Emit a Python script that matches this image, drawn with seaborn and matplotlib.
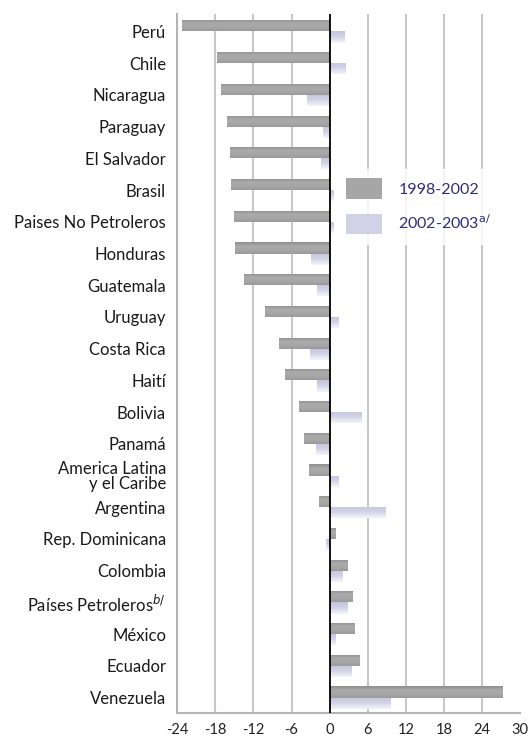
import matplotlib
matplotlib.use("Agg")
import matplotlib.pyplot as plt
from matplotlib.colors import LinearSegmentedColormap
import seaborn as sns
import pandas as pd
import numpy as np

countries = ["Perú", "Chile", "Nicaragua", "Paraguay", "El Salvador", "Brasil",
             "Paises No Petroleros", "Honduras", "Guatemala", "Uruguay", "Costa Rica",
             "Haití", "Bolivia", "Panamá", "America Latina\ny el Caribe", "Argentina",
             "Rep. Dominicana", "Colombia", "Países Petroleros$^{b/}$", "México",
             "Ecuador", "Venezuela"]
v_1998_2002 = [-23.2, -17.7, -17.1, -16.2, -15.7, -15.5, -15.0, -14.9, -13.5, -10.2,
               -7.9, -7.1, -4.9, -4.1, -3.3, -1.7, 0.9, 2.8, 3.6, 3.9, 4.7, 27.1]
v_2002_2003 = [2.3, 2.5, -3.6, -1.1, -1.4, 0.6, 0.6, -3.0, -2.0, 1.3,
               -3.1, -2.0, 5.0, -2.2, 1.3, 8.8, -0.5, 2.0, 2.8, 0.9, 3.4, 9.5]
series = ["1998-2002", "2002-2003$^{\\mathrm{a/}}$"]
xticks = [-24, -18, -12, -6, 0, 6, 12, 18, 24, 30]

df = pd.DataFrame({
    "pais": countries * 2,
    "valor": v_1998_2002 + v_2002_2003,
    "periodo": [series[0]] * len(countries) + [series[1]] * len(countries),
})

sns.set_style("white")
plt.rcParams["font.family"] = ["Lato", "DejaVu Sans"]

fig = plt.figure(figsize=(5.32, 7.39), dpi=100)
ax = fig.add_axes([0.333, 0.035, 0.645, 0.946])

sns.barplot(data=df, y="pais", x="valor", hue="periodo", orient="h",
            palette=["#a6a6a6", "#d2d2e6"], width=0.7, saturation=1,
            linewidth=0, ax=ax)

# soft vertical gradient on each bar, like the original
grey_cmap = LinearSegmentedColormap.from_list("g", ["#8e8e8e", "#aaaaaa", "#a8a8a8", "#9a9a9a"])
lav_cmap = LinearSegmentedColormap.from_list("l", ["#c4c4dc", "#d4d4e8", "#f4f4fa"])
grad = np.linspace(0, 1, 32).reshape(-1, 1)
n = len(countries)
for i, patch in enumerate(list(ax.patches)):
    w = patch.get_width()
    if w == 0 or np.isnan(w):
        continue
    x0, y0 = patch.get_x(), patch.get_y()
    h = patch.get_height()
    cmap = grey_cmap if i < n else lav_cmap
    im = ax.imshow(grad, cmap=cmap, aspect="auto",
                   extent=[min(x0, x0 + w), max(x0, x0 + w), y0 + h, y0],
                   zorder=2, interpolation="bicubic")
    im.set_clip_path(patch)

ax.set_xlim(-24, 30)
ax.set_ylim(n - 0.51, -0.55)
ax.set_xticks(xticks)
ax.set_xticklabels([str(t) for t in xticks], fontsize=10.5, color="#222222")
ax.tick_params(axis="x", length=0, pad=7)
ax.tick_params(axis="y", length=0, pad=8, labelsize=12, labelcolor="#1a1a1a")
for lbl in ax.get_yticklabels():
    lbl.set_linespacing(0.95)
ax.set_xlabel("")
ax.set_ylabel("")

for t in xticks[1:-1]:
    if t != 0:
        ax.axvline(t, color="#c8c8cc", lw=1.5, zorder=0)
ax.axvline(0, color="black", lw=1.3, zorder=3)

for side in ["top", "right"]:
    ax.spines[side].set_visible(False)
for side in ["left", "bottom"]:
    ax.spines[side].set_color("#b4b4b8")
    ax.spines[side].set_linewidth(1.5)

leg = ax.legend(loc="center left", bbox_to_anchor=(0.44, 0.725), frameon=True,
                fontsize=11.5, handlelength=2.3, handleheight=1.6,
                labelspacing=0.9, handletextpad=1.0, borderpad=0.6)
leg.get_frame().set_facecolor("white")
leg.get_frame().set_edgecolor("white")
leg.set_zorder(5)
for txt in leg.get_texts():
    txt.set_color("#2b2f7a")

fig.savefig("out.png", dpi=100)
